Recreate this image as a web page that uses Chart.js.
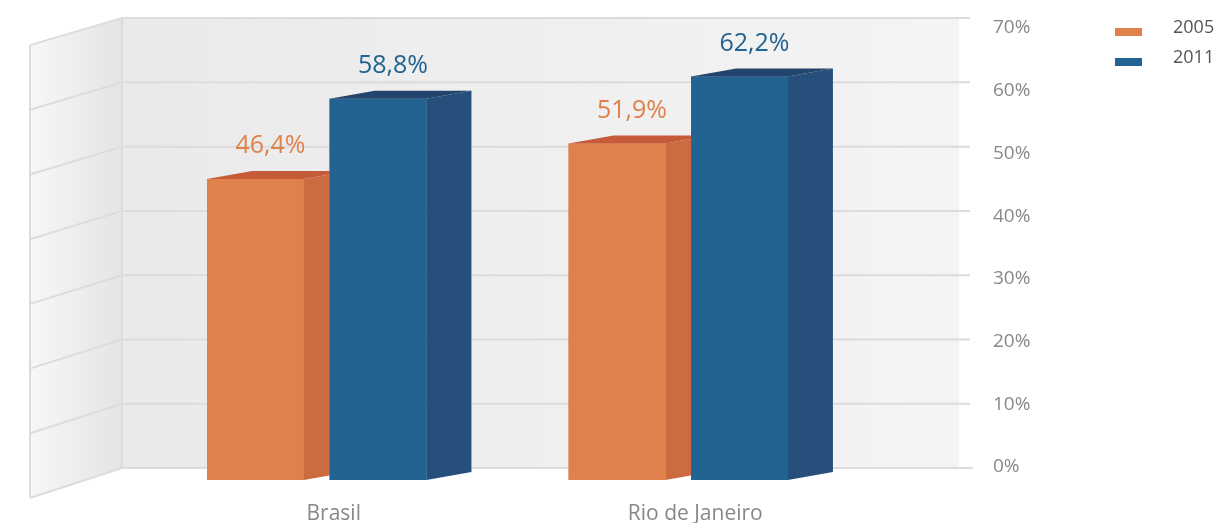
<!DOCTYPE html>
<html>
<head>
<meta charset="utf-8">
<script src="https://cdn.jsdelivr.net/npm/chart.js@4"></script>
<style>
  html, body { margin: 0; background: #fff; }
  #wrap { width: 1224px; height: 523px; }
</style>
</head>
<body>
<div id="wrap"><canvas id="grafico"></canvas></div>
<script>
// dados
const categorias = ['Brasil', 'Rio de Janeiro'];
const anos = ['2005', '2011'];
const taxa2005 = [46.4, 51.9];
const taxa2011 = [58.8, 62.2];
const marcasEixo = [0, 10, 20, 30, 40, 50, 60, 70];

// cores: frente, lado e topo de cada série
const corFrente = ['#e0804a', '#236392'];
const corLado = ['#cb6b3f', '#26507b'];
const corTopo = ['#c65b39', '#22446d'];

const FONTE = "'Open Sans', sans-serif";
const PROF_X = 45, PROF_Y = -8;   // profundidade das barras

// posição de um valor na parede do fundo (um pouco atrás da frente)
function yFundo(chart, v) {
    const y = chart.scales.y;
    const y0 = y.getPixelForValue(0);
    return y0 - 12 + (y.getPixelForValue(v) - y0) * 0.991;
}

function poligono(ctx, pts, cor) {
    ctx.fillStyle = cor;
    ctx.beginPath();
    ctx.moveTo(pts[0][0], pts[0][1]);
    for (let i = 1; i < pts.length; i++) ctx.lineTo(pts[i][0], pts[i][1]);
    ctx.closePath();
    ctx.fill();
}

const efeito3d = {
    id: 'efeito3d',
    beforeDatasetsDraw(chart) {
        const ctx = chart.ctx, area = chart.chartArea;
        const esq = area.left - 14, dir = area.right + 100, fimLinha = area.right + 111;
        const lat = esq - 92;
        const topo = yFundo(chart, 70), base = yFundo(chart, 0);
        ctx.save();
        // parede lateral
        let g = ctx.createLinearGradient(lat, 0, esq, 0);
        g.addColorStop(0, '#f7f7f7');
        g.addColorStop(1, '#e4e4e4');
        poligono(ctx, [[lat, topo + 27], [esq, topo], [esq, base], [lat, base + 30]], g);
        // parede do fundo
        g = ctx.createLinearGradient(esq, 0, dir, 0);
        g.addColorStop(0, '#eaeaea');
        g.addColorStop(1, '#f4f4f4');
        ctx.fillStyle = g;
        ctx.fillRect(esq, topo, dir - esq, base - topo);
        // linhas de grade
        ctx.strokeStyle = '#dcdcdc';
        ctx.lineWidth = 2;
        marcasEixo.forEach(v => {
            const yy = yFundo(chart, v);
            const off = 27 + 3 * (1 - v / 70);
            ctx.beginPath();
            ctx.moveTo(lat, yy + off);
            ctx.lineTo(esq, yy);
            ctx.lineTo(v === 0 ? fimLinha + 3 : fimLinha, yy);
            ctx.stroke();
        });
        ctx.beginPath();
        ctx.moveTo(lat, topo + 27); ctx.lineTo(lat, base + 30);
        ctx.moveTo(esq, topo); ctx.lineTo(esq, base);
        ctx.stroke();
        ctx.restore();
    },
    afterDatasetsDraw(chart) {
        const ctx = chart.ctx;
        ctx.save();
        // da esquerda para a direita: frente, lado e topo de cada série
        chart.data.datasets.forEach((ds, i) => {
            chart.getDatasetMeta(i).data.forEach(bar => {
                bar.draw(ctx);
                const p = bar.getProps(['x', 'y', 'base', 'width'], true);
                const L = p.x - p.width / 2, R = p.x + p.width / 2;
                poligono(ctx, [[R, p.y], [R + PROF_X, p.y + PROF_Y], [R + PROF_X, p.base + PROF_Y], [R, p.base]], corLado[i]);
                poligono(ctx, [[L, p.y], [L + PROF_X, p.y + PROF_Y], [R + PROF_X, p.y + PROF_Y], [R, p.y]], corTopo[i]);
            });
        });
        // rótulos de valor
        ctx.font = '25px ' + FONTE;
        ctx.textAlign = 'center';
        ctx.textBaseline = 'middle';
        chart.data.datasets.forEach((ds, i) => {
            chart.getDatasetMeta(i).data.forEach((bar, j) => {
                ctx.fillStyle = corFrente[i];
                ctx.fillText(ds.data[j].toFixed(1).replace('.', ',') + '%', bar.x + 15, bar.y - 33);
            });
        });
        ctx.restore();
    },
    afterDraw(chart) {
        // legenda no canto superior direito
        const ctx = chart.ctx;
        ctx.save();
        ctx.font = '18px ' + FONTE;
        ctx.textBaseline = 'middle';
        chart.data.datasets.forEach((ds, i) => {
            const yy = 32 + i * 30;
            ctx.fillStyle = corFrente[i];
            ctx.fillRect(1115, yy - 4, 27, 8);
            ctx.fillStyle = '#555';
            ctx.fillText(ds.label, 1173, yy - 4);
        });
        ctx.restore();
    }
};

const dados = {
    labels: categorias,
    datasets: [
        { label: anos[0], data: taxa2005, backgroundColor: corFrente[0] },
        { label: anos[1], data: taxa2011, backgroundColor: corFrente[1] }
    ]
};

const config = {
    type: 'bar',
    data: dados,
    options: {
        responsive: true,
        maintainAspectRatio: false,
        animation: false,
        events: [],
        categoryPercentage: 0.678,
        barPercentage: 0.79,
        layout: { padding: { left: 136, right: 165, top: 26, bottom: 0 } },
        plugins: { legend: { display: false }, tooltip: { enabled: false } },
        scales: {
            x: {
                grid: { display: false, drawTicks: false },
                border: { display: false },
                ticks: { color: '#888', font: { family: FONTE, size: 21 }, padding: 21, labelOffset: 17 },
                afterFit(axis) { axis.height = 43; }
            },
            y: { display: false, min: 0, max: 70 },
            yl: {
                position: 'right',
                min: -2.07,
                max: 70.32,
                grid: { drawOnChartArea: false, drawTicks: true, tickLength: 134, tickColor: 'rgba(0,0,0,0)' },
                border: { display: false },
                ticks: {
                    color: '#888',
                    font: { family: FONTE, size: 19 },
                    padding: 0,
                    callback: v => v + '%'
                },
                afterBuildTicks(axis) { axis.ticks = marcasEixo.map(v => ({ value: v })); },
                afterFit(axis) { axis.width = 200; }
            }
        }
    },
    plugins: [efeito3d]
};

const grafico = new Chart(document.getElementById('grafico'), config);
</script>
</body>
</html>
